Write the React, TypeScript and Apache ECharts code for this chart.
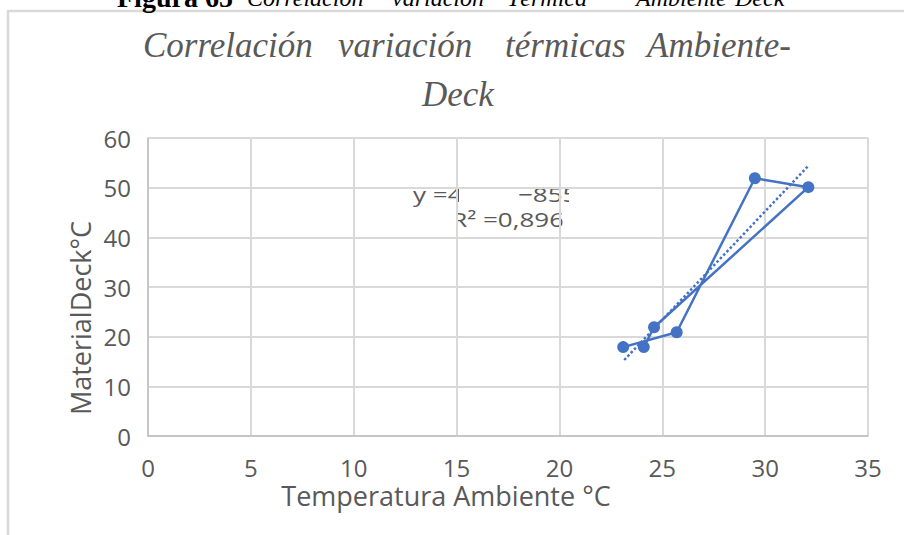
import React, { useEffect, useRef } from "react";
import * as echarts from "echarts";

// Data
const ambientTemp = [23.1, 25.7, 29.5, 32.1, 24.6, 24.1];
const deckTemp = [17.9, 20.9, 51.9, 50.1, 21.9, 17.9];
const trendX = [23.15, 32.1];
const trendY = [15.3, 54.4];
const xTicks = { min: 0, max: 35, interval: 5 };
const yTicks = { min: 0, max: 60, interval: 10 };
const titleWords = ["Correlación", "variación", "térmicas", "Ambiente-"];
const titleLine2 = "Deck";
const captionBold = "Figura 65";
const captionWords = ["Correlación", "variación", "Térmica", "Ambiente", "Deck"];
const xTitle = "Temperatura Ambiente °C";
const yTitle = "MaterialDeck°C";
const eqLine1a = "y =4";
const eqLine1b = "−855";
const eqLine2 = "R² =0,896";

const BLUE = "#4472C4";
const GRAY_TXT = "#595959";
const SANS = "'Open Sans', 'Noto Sans', sans-serif";
const SERIF = "'Liberation Serif', 'DejaVu Serif', serif";

export default function App() {
  const ref = useRef<HTMLDivElement>(null);
  useEffect(() => {
    if (!ref.current) return;
    const chart = echarts.init(ref.current, undefined, { renderer: "svg" });
    const pts = ambientTemp.map((x, i) => [x, deckTemp[i]]);
    const trend = trendX.map((x, i) => [x, trendY[i]]);
    const titleX = [143, 338, 505, 647];
    const capX = [247, 392, 507, 636, 735];
    const white = { fill: "#ffffff" };
    chart.setOption({
      animation: false,
      backgroundColor: "#ffffff",
      grid: { left: 148, top: 138, width: 720, height: 298, containLabel: false },
      xAxis: {
        type: "value",
        min: xTicks.min,
        max: xTicks.max,
        interval: xTicks.interval,
        axisLine: { show: true, lineStyle: { color: "#bfbfbf", width: 1.5 } },
        axisTick: { show: false },
        axisLabel: { color: GRAY_TXT, fontSize: 24, fontFamily: SANS, margin: 19 },
        splitLine: { show: true, lineStyle: { color: "#d9d9d9", width: 2 } },
      },
      yAxis: {
        type: "value",
        min: yTicks.min,
        max: yTicks.max,
        interval: yTicks.interval,
        axisLine: { show: true, lineStyle: { color: "#bfbfbf", width: 1.5 } },
        axisTick: { show: false },
        axisLabel: { color: GRAY_TXT, fontSize: 24, fontFamily: SANS, margin: 17 },
        splitLine: { show: true, lineStyle: { color: "#d9d9d9", width: 2 } },
      },
      series: [
        {
          type: "line",
          data: trend,
          showSymbol: false,
          symbol: "none",
          lineStyle: { color: BLUE, width: 2.5, type: [2.5, 2.3] },
          z: 3,
        },
        {
          type: "line",
          data: pts,
          symbol: "circle",
          symbolSize: 12,
          itemStyle: { color: BLUE },
          lineStyle: { color: BLUE, width: 2.5 },
          z: 4,
        },
      ],
      graphic: [
        // outer frame
        { type: "line", shape: { x1: 7, y1: 11, x2: 904, y2: 11 }, style: { stroke: "#d9d9d9", lineWidth: 2.5 } },
        { type: "line", shape: { x1: 8, y1: 11, x2: 8, y2: 535 }, style: { stroke: "#d9d9d9", lineWidth: 2.5 } },
        // caption (cut at top)
        { type: "text", x: 117, y: -3, style: { text: captionBold, font: `bold 28px ${SERIF}`, fill: "#000", verticalAlign: "middle" } },
        ...captionWords.map((w, i) => ({
          type: "text", x: capX[i], y: -2,
          style: { text: w, font: `italic 24px ${SERIF}`, fill: "#000", verticalAlign: "middle" },
        })),
        // title
        ...titleWords.map((w, i) => ({
          type: "text", x: titleX[i], y: 45,
          style: { text: w, font: `italic 35px ${SERIF}`, fill: GRAY_TXT, verticalAlign: "middle" },
        })),
        { type: "text", x: 422, y: 94, style: { text: titleLine2, font: `italic 35px ${SERIF}`, fill: GRAY_TXT, verticalAlign: "middle" } },
        // axis titles
        { type: "text", x: 446, y: 495, style: { text: xTitle, font: `27px ${SANS}`, fill: GRAY_TXT, align: "center", verticalAlign: "middle" } },
        { type: "text", x: 80, y: 318, rotation: Math.PI / 2, style: { text: yTitle, font: `27px ${SANS}`, fill: GRAY_TXT, align: "center", verticalAlign: "middle" } },
        // trendline label box (white), leaving the vertical gridlines visible
        { type: "rect", shape: { x: 400, y: 180, width: 57, height: 52 }, style: white },
        { type: "rect", shape: { x: 459, y: 180, width: 101, height: 52 }, style: white },
        { type: "rect", shape: { x: 562, y: 180, width: 18, height: 52 }, style: white },
        // trendline equation fragments
        { type: "text", x: 413, y: 194, scaleX: 1.3, style: { text: eqLine1a, font: `20px ${SANS}`, fill: GRAY_TXT, align: "left", verticalAlign: "middle" } },
        { type: "text", x: 518, y: 194, scaleX: 1.3, style: { text: eqLine1b, font: `20px ${SANS}`, fill: GRAY_TXT, align: "left", verticalAlign: "middle" } },
        { type: "text", x: 564, y: 219, scaleX: 1.3, style: { text: eqLine2, font: `20px ${SANS}`, fill: GRAY_TXT, align: "right", verticalAlign: "middle" } },
        // clipping of the label text
        { type: "rect", shape: { x: 459, y: 181, width: 58, height: 26 }, style: white },
        { type: "rect", shape: { x: 569, y: 181, width: 20, height: 26 }, style: white },
        { type: "rect", shape: { x: 400, y: 207, width: 57, height: 25 }, style: white },
        { type: "rect", shape: { x: 562.5, y: 207, width: 27, height: 25 }, style: white },
      ],
    });
    return () => chart.dispose();
  }, []);
  return (
    <div
      ref={ref}
      style={{ position: "absolute", left: 0, top: 0, width: 904, height: 535, background: "#fff" }}
    />
  );
}
